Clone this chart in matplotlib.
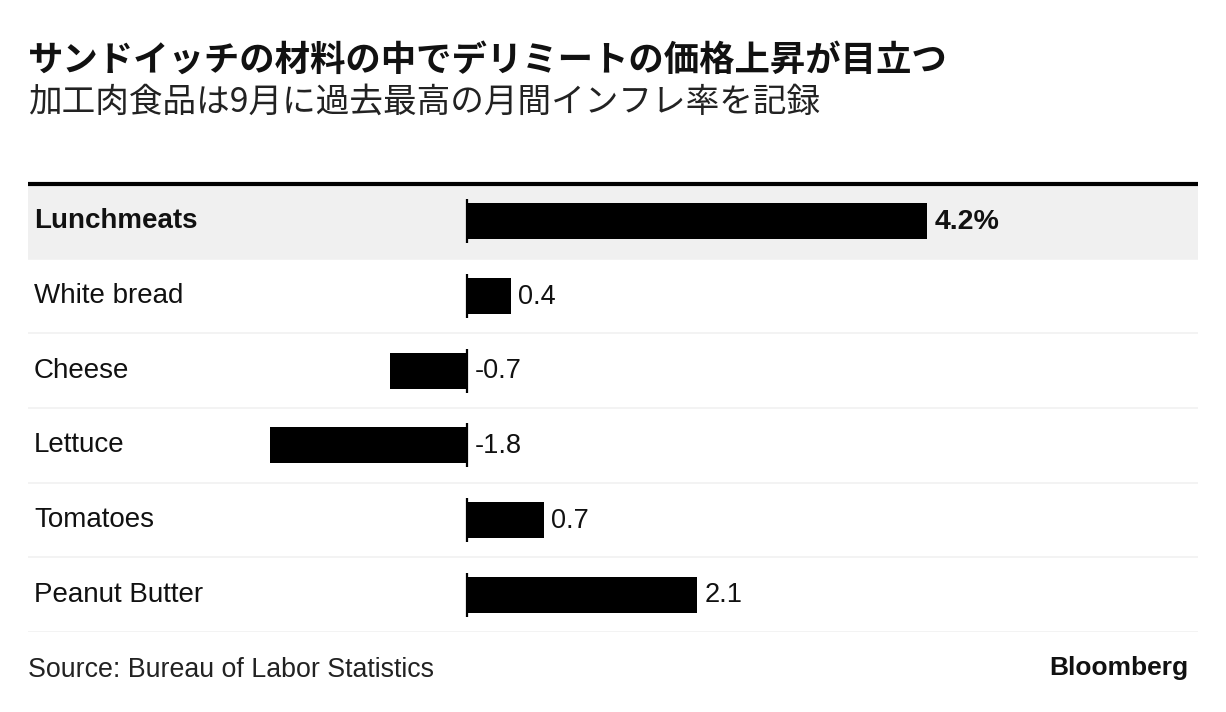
import matplotlib
matplotlib.use("Agg")
import matplotlib.pyplot as plt
import matplotlib.transforms as mtransforms

# Data: monthly change in price (%), September
categories = ["Lunchmeats", "White bread", "Cheese", "Lettuce", "Tomatoes", "Peanut Butter"]
values = [4.2, 0.4, -0.7, -1.8, 0.7, 2.1]
value_labels = ["4.2%", "0.4", "-0.7", "-1.8", "0.7", "2.1"]

title = "サンドイッチの材料の中でデリミートの価格上昇が目立つ"
subtitle = "加工肉食品は9月に過去最高の月間インフレ率を記録"
source = "Source: Bureau of Labor Statistics"
brand = "Bloomberg"

W, H = 1226, 712
fig = plt.figure(figsize=(W / 100, H / 100), dpi=100)
fig.patch.set_facecolor("white")

latin = ["Liberation Sans", "DejaVu Sans"]
cjk = ["Noto Sans CJK JP", "DejaVu Sans"]


def fx(px):
    return px / W


def fy(py):
    return 1 - py / H


# Plot area in pixel space
left, right, top, bottom = 28, 1198, 184, 632
ax = fig.add_axes([fx(left), fy(bottom), fx(right) - fx(left), fy(top) - fy(bottom)])

zero_px = 467
scale = (927 - 467) / 4.2  # pixels per percentage point
ax.set_xlim((left - zero_px) / scale, (right - zero_px) / scale)
n = len(categories)
ax.set_ylim(n - 0.5, -0.5)
ax.axis("off")

ypos = list(range(n))

# Highlight band on the first row
ax.axhspan(-0.5, 0.5, color="#f0f0f0", zorder=0, lw=0)
# Row separators
for k in range(1, n + 1):
    ax.axhline(k - 0.5, color="#f1f1f1", lw=1.2, zorder=1)
# Heavy top rule
ax.axhline(-0.5, color="black", lw=3, zorder=3, clip_on=False, solid_capstyle="butt")

ax.barh(ypos, values, height=0.48, color="black", zorder=2)
# Zero baseline ticks per row
ax.vlines([0] * n, [y - 0.295 for y in ypos], [y + 0.295 for y in ypos],
          color="black", lw=1.6, zorder=3)

label_tf = mtransforms.blended_transform_factory(ax.transAxes, ax.transData)
for i, (cat, v, lab) in enumerate(zip(categories, values, value_labels)):
    bold = i == 0
    ax.text((34 - left) / (right - left), i, cat, transform=label_tf,
            ha="left", va="center", fontsize=20, family=latin,
            fontweight="bold" if bold else "normal", color="#111111")
    ax.annotate(lab, xy=(max(v, 0), i + 0.01), xytext=(5.5, 0), textcoords="offset points",
                ha="left", va="center", fontsize=20.5 if bold else 19.5, family=latin,
                fontweight="bold" if bold else "normal", color="#111111")

fig.text(fx(28), fy(60), title, ha="left", va="center", fontsize=25.5,
         fontweight="bold", family=cjk, color="#111111")
fig.text(fx(28), fy(102), subtitle, ha="left", va="center", fontsize=24.2,
         family=cjk, color="#222222")

fig.text(fx(28), fy(670), source, ha="left", va="center", fontsize=19.3,
         family=latin, color="#222222")
fig.text(fx(1188), fy(668), brand, ha="right", va="center", fontsize=19,
         fontweight="bold", family=latin, color="#111111")

fig.savefig("out.png", dpi=100, facecolor="white")
